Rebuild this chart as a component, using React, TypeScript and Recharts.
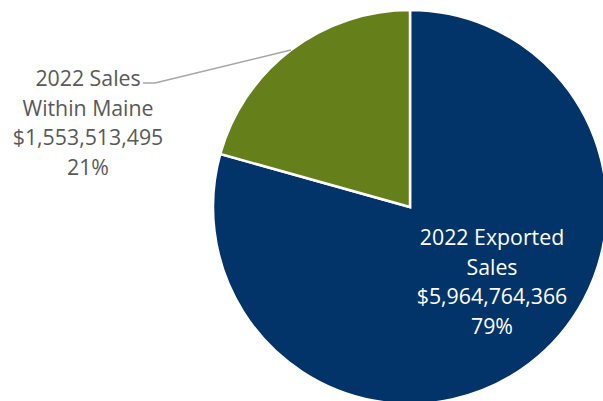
import React from "react"
import { PieChart, Pie, Cell } from "recharts"

const categories = ["2022 Exported Sales", "2022 Sales Within Maine"]
const labelLines = [["2022 Exported", "Sales"], ["2022 Sales", "Within Maine"]]
const values = [5964764366, 1553513495]
const colors = ["#02346A", "#657F1B"]

const data = categories.map((name, i) => ({ name, value: values[i] }))

const FONT = "'Open Sans', 'Noto Sans', sans-serif"
const FONT_SIZE = 21.3
const LINE_H = 29.5

const renderLabel = (props: any) => {
  const { cx, cy, midAngle, outerRadius, index, value, percent } = props
  const lines = [
    ...labelLines[index],
    "$" + Number(value).toLocaleString("en-US"),
    Math.round(percent * 100) + "%",
  ]
  if (index === 0) {
    // inside label on the big slice
    const x = cx + 82
    const y0 = cy + 38
    return (
      <text x={x} y={y0} fill="#fff" fontSize={FONT_SIZE} fontFamily={FONT} textAnchor="middle">
        {lines.map((l, i) => (
          <tspan key={i} x={x} y={y0 + i * LINE_H}>{l}</tspan>
        ))}
      </text>
    )
  }
  // outside label with leader line
  const rad = Math.PI / 180
  const ex = cx + outerRadius * Math.cos(-midAngle * rad)
  const ey = cy + outerRadius * Math.sin(-midAngle * rad)
  const ly = cy - 124
  const x = cx - 322
  const y0 = cy - 121
  return (
    <g>
      <polyline
        points={`${ex},${ey} ${cx - 255},${ly} ${cx - 267},${ly}`}
        fill="none"
        stroke="#A6A6A6"
        strokeWidth={1.5}
      />
      <text x={x} y={y0} fill="#595959" fontSize={FONT_SIZE} fontFamily={FONT} textAnchor="middle">
        {lines.map((l, i) => (
          <tspan key={i} x={x} y={y0 + i * LINE_H}>{l}</tspan>
        ))}
      </text>
    </g>
  )
}

export default function App() {
  return (
    <div style={{ position: "absolute", left: 0, top: 0, width: 603, height: 401, background: "#fff", overflow: "hidden" }}>
      <PieChart width={603} height={401} margin={{ top: 0, right: 0, bottom: 0, left: 0 }}>
        <Pie
          data={data}
          dataKey="value"
          nameKey="name"
          cx={410}
          cy={207}
          outerRadius={197}
          startAngle={90}
          endAngle={-270}
          stroke="#fff"
          strokeWidth={2.5}
          label={renderLabel}
          labelLine={false}
          isAnimationActive={false}
        >
          {data.map((d, i) => (
            <Cell key={d.name} fill={colors[i]} />
          ))}
        </Pie>
      </PieChart>
    </div>
  )
}
